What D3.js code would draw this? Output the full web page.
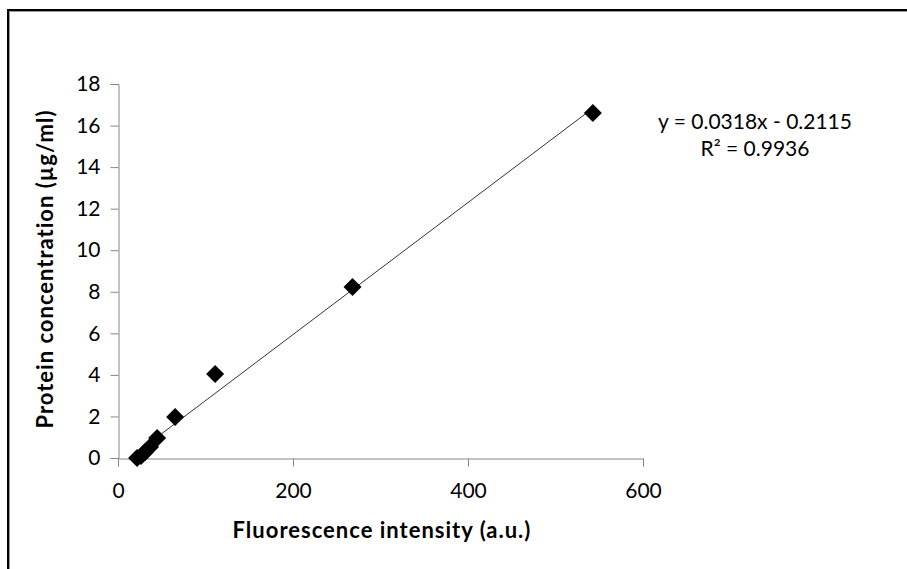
<!DOCTYPE html>
<html>
<head>
<meta charset="utf-8">
<script src="https://cdn.jsdelivr.net/npm/d3@7"></script>
<style>
  html, body { margin: 0; padding: 0; background: #fff; }
  svg { display: block; }
  text { font-family: Lato, "Open Sans", sans-serif; fill: #000; }
</style>
</head>
<body>
<svg id="chart" width="907" height="569"></svg>
<script>
// ---- data ----
const fluorescence = [542.7, 268, 111, 65.3, 44.7, 36.6, 30.9, 26.3, 21.8];
const concentration = [16.6, 8.23, 4.04, 1.97, 0.96, 0.53, 0.29, 0.1, 0.0];
const xTicks = [0, 200, 400, 600];
const yTicks = [0, 2, 4, 6, 8, 10, 12, 14, 16, 18];
const xTitle = "Fluorescence intensity (a.u.)";
const yTitle = "Protein concentration  (µg/ml)";
const equationLines = ["y = 0.0318x - 0.2115", "R² = 0.9936"];

const svg = d3.select("#chart");

// outer frame (black with a grey inner line), right/bottom run off-page
svg.append("rect").attr("x", 8).attr("y", 10).attr("width", 1000).attr("height", 1000)
  .attr("fill", "none").attr("stroke", "#000").attr("stroke-width", 2);
svg.append("rect").attr("x", 9.5).attr("y", 11.5).attr("width", 1000).attr("height", 1000)
  .attr("fill", "none").attr("stroke", "#9a9a9a").attr("stroke-width", 1);

const x = d3.scaleLinear().domain([0, 600]).range([118, 643]);
const y = d3.scaleLinear().domain([0, 18]).range([458, 84]);

const axisColor = "#868686";
const fs = "21px";

// x axis
const gx = svg.append("g").attr("transform", "translate(0,458.5)")
  .call(d3.axisBottom(x).tickValues(xTicks).tickSize(8).tickPadding(17).tickFormat(d3.format("d")));
// y axis
const gy = svg.append("g").attr("transform", "translate(118.5,0)")
  .call(d3.axisLeft(y).tickValues(yTicks).tickSize(8).tickPadding(10).tickFormat(d3.format("d")));

[gx, gy].forEach(g => {
  g.select(".domain").attr("stroke", axisColor);
  g.selectAll(".tick line").attr("stroke", axisColor);
  g.selectAll(".tick text").style("font-size", fs).style("font-family", "Lato, sans-serif").attr("fill", "#000");
});

// linear regression trend line computed from the points
const n = fluorescence.length;
const mx = d3.mean(fluorescence), my = d3.mean(concentration);
let sxy = 0, sxx = 0;
for (let i = 0; i < n; i++) {
  sxy += (fluorescence[i] - mx) * (concentration[i] - my);
  sxx += (fluorescence[i] - mx) ** 2;
}
const slope = sxy / sxx, intercept = my - slope * mx;
const xMin = d3.min(fluorescence), xMax = d3.max(fluorescence);
svg.append("line")
  .attr("x1", x(xMin)).attr("y1", y(slope * xMin + intercept))
  .attr("x2", x(xMax)).attr("y2", y(slope * xMax + intercept))
  .attr("stroke", "#333").attr("stroke-width", 1);

// diamond markers
const diamond = d3.symbol().type(d3.symbolSquare).size(162);
svg.append("g").selectAll("path")
  .data(fluorescence.map((v, i) => [v, concentration[i]]))
  .join("path")
  .attr("d", diamond)
  .attr("transform", d => `translate(${x(d[0])},${y(d[1])}) rotate(45)`)
  .attr("fill", "#000");

// axis titles
svg.append("text")
  .attr("x", 382).attr("y", 538)
  .attr("text-anchor", "middle")
  .style("font-size", "22px").style("font-weight", "bold").style("letter-spacing", "1px")
  .text(xTitle);

svg.append("text")
  .attr("transform", "translate(53,269) rotate(-90)")
  .attr("text-anchor", "middle")
  .style("font-size", "22px").style("font-weight", "bold").style("letter-spacing", "1px")
  .text(yTitle);

// equation label
svg.append("g").selectAll("text")
  .data(equationLines)
  .join("text")
  .attr("x", 755).attr("y", (d, i) => 129 + i * 27)
  .attr("text-anchor", "middle")
  .style("font-size", fs)
  .text(d => d);
</script>
</body>
</html>
